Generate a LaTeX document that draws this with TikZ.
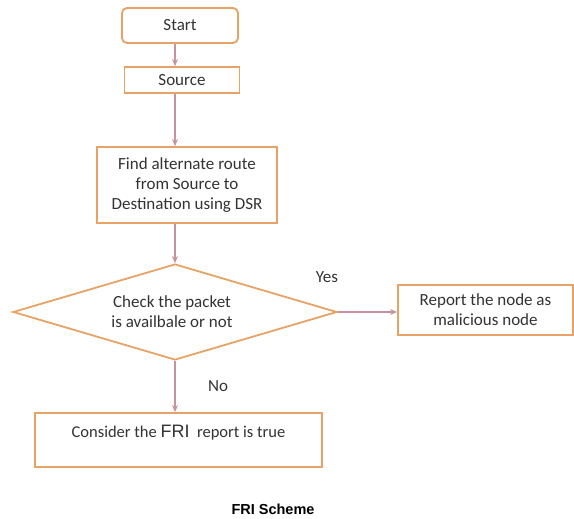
\documentclass[tikz,border=0pt]{standalone}
\usepackage{fontspec}
\setmainfont{Carlito}
\newfontfamily\arialf{Liberation Sans}
\usetikzlibrary{shapes.geometric,arrows.meta}
\definecolor{boxor}{HTML}{E8A266}
\definecolor{linepk}{HTML}{C8929E}
\definecolor{txtg}{HTML}{333333}
\tikzset{
  stepbox/.style={draw=boxor, line width=1.8pt, fill=white, text=txtg, inner sep=0pt,
    font=\fontsize{17}{20}\selectfont, align=center},
  conn/.style={draw=linepk, line width=1.1pt, -{Stealth[length=7pt,width=6pt,open]}},
  lbl/.style={text=txtg, font=\fontsize{17}{20}\selectfont, inner sep=0pt},
}
\begin{document}
\begin{tikzpicture}[x=1pt,y=-1pt]
\useasboundingbox (0,0) rectangle (574,519);
\node[stepbox, rounded corners=5pt, minimum width=116pt, minimum height=35pt] (start) at (180,25.5) {Start};
\node[stepbox, minimum width=115pt, minimum height=26pt] (source) at (182,80) {Source};
\node[stepbox, minimum width=180pt, minimum height=76pt] (find) at (187,185) {Find alternate route\\from Source to\\Destination using DSR};
\node[draw=boxor, line width=1.8pt, diamond, aspect=3.34, minimum width=324pt, minimum height=96pt, inner sep=0pt] (dia) at (175,312) {};
\node[lbl, align=center] (diatext) at (172,312) {Check the packet\\is availbale or not};
\node[stepbox, minimum width=175pt, minimum height=50pt] (report) at (485.5,310) {Report the node as\\malicious node};
\node[stepbox, minimum width=287pt, minimum height=54pt, font=\fontsize{16.5}{20}\selectfont, text height=13pt, text depth=19pt] (consider) at (178.5,440) {Consider the {\arialf\fontsize{18}{18}\selectfont FRI}\ \ report is true};
\node[lbl] (yes) at (327,277) {Yes};
\node[lbl] (no) at (218,386) {No};
\node[font=\arialf\bfseries\fontsize{14.5}{14.5}\selectfont, text=black, inner sep=0pt] (title) at (273,509) {FRI Scheme};
\draw[conn] (start.south -| dia.north) -- (source.north -| dia.north);
\draw[conn] (source.south -| dia.north) -- (find.north -| dia.north);
\draw[conn] (find.south -| dia.north) -- (dia.north);
\draw[conn] (dia.east) -- (dia.east -| report.west);
\draw[conn] (dia.south) -- (consider.north -| dia.south);
\end{tikzpicture}
\end{document}
